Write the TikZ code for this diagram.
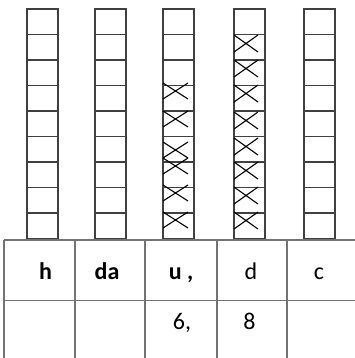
\documentclass[tikz,border=0pt]{standalone}
\usepackage{fontspec}
\setmainfont{Carlito}
\begin{document}
\begin{tikzpicture}[x=1pt,y=-1pt,
  colbox/.style={draw=black!75,line width=1.4pt},
  crossmark/.style={draw=black,line width=1.1pt},
  gridline/.style={draw=black!55,line width=1.2pt},
  celltext/.style={font=\fontsize{24}{28}\selectfont,anchor=base},
  boldtext/.style={font=\fontsize{24}{28}\selectfont\bfseries,anchor=base}]
\useasboundingbox (0,0) rectangle (355,358);
% columns
\foreach \xl in {27,95,163,234,304}{
  \foreach \i in {0,...,8}{
    \draw[colbox] (\xl,{9+25.5*\i}) rectangle ({\xl+31},{9+25.5*(\i+1)});
  }
}
% crosses column 3
\foreach \t in {83,111,142,158,185,212}{
  \draw[crossmark] (163,\t) -- (188,{\t+16}) (163,{\t+16}) -- (188,\t);
}
% crosses column 4
\foreach \t in {35,60,85,112,138,162,187,212}{
  \draw[crossmark] (234,\t) -- (258,{\t+17}) (234,{\t+17}) -- (258,\t);
}
% table
\draw[gridline] (4,240) -- (355,240);
\draw[gridline] (4,300.5) -- (355,300.5);
\foreach \x in {4,75,145,217,287}{
  \draw[gridline] (\x,240) -- (\x,358);
}
\node[boldtext] (h) at (45.5,279) {h};
\node[boldtext] (da) at (107,279) {da};
\node[boldtext] (u) at (181,279) {u ,};
\node[celltext] (d) at (251,279) {d};
\node[celltext] (c) at (319,279) {c};
\node[celltext] (six) at (182,329) {6,};
\node[celltext] (eight) at (249.5,329) {8};
\end{tikzpicture}
\end{document}
